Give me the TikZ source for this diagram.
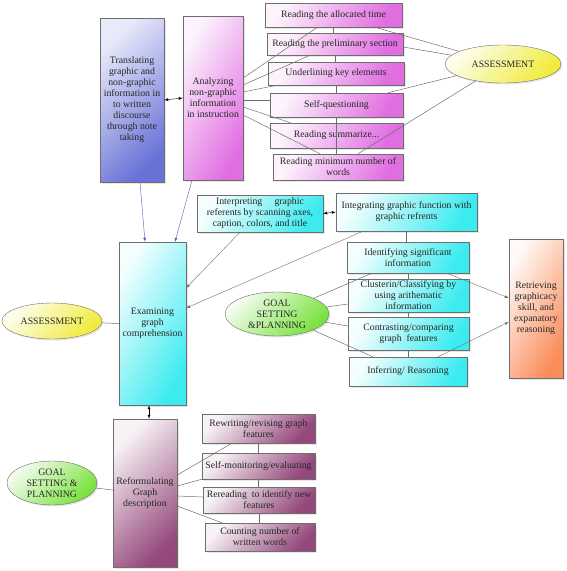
\documentclass[tikz,border=0pt]{standalone}
\usepackage{fontspec}
\setmainfont{Liberation Serif}
\usetikzlibrary{shapes.geometric,shadows}
\definecolor{bluebox}{RGB}{105,115,215}
\definecolor{pinkbox}{RGB}{225,110,225}
\definecolor{cyanbox}{RGB}{60,235,240}
\definecolor{plumbox}{RGB}{130,40,100}
\definecolor{orangebox}{RGB}{250,140,90}
\definecolor{yellowell}{RGB}{240,235,60}
\definecolor{greenell}{RGB}{120,225,60}
\definecolor{edgegray}{RGB}{110,110,110}
\definecolor{linkblue}{RGB}{90,90,190}
\tikzset{
  box/.style={draw=edgegray, align=center, inner sep=1pt, text=black!85,
    font=\fontsize{9.8}{11}\selectfont,
    drop shadow={opacity=0.2, shadow xshift=1.5pt, shadow yshift=-1.5pt}},
  bluefill/.style={top color=bluebox!15, bottom color=bluebox, shading angle=45},
  pinkfill/.style={top color=pinkbox!8, bottom color=pinkbox, shading angle=60},
  cyanfill/.style={top color=cyanbox!5, bottom color=cyanbox, shading angle=60},
  plumfill/.style={top color=plumbox!6, bottom color=plumbox!85, shading angle=45},
  orangefill/.style={top color=orangebox!5, bottom color=orangebox, shading angle=60},
  oval/.style={ellipse, draw=edgegray, inner sep=0pt, align=center, text=black!85,
    font=\fontsize{9.8}{11}\selectfont,
    drop shadow={opacity=0.2, shadow xshift=1.5pt, shadow yshift=-1.5pt}},
  yellowfill/.style={top color=yellowell!8, bottom color=yellowell, shading angle=45},
  greenfill/.style={top color=greenell!8, bottom color=greenell, shading angle=45},
  link/.style={draw=edgegray, line width=0.5pt},
}
\begin{document}
\begin{tikzpicture}[x=1pt,y=-1pt,>=latex]
\useasboundingbox (0,0) rectangle (567,571);
% top part
\node[box,bluefill,minimum width=64pt,minimum height=164pt] (trans) at (132,100)
  {Translating\\graphic and\\non-graphic\\information in\\to written\\discourse\\through note\\taking};
\node[box,pinkfill,minimum width=60pt,minimum height=164pt] (anal) at (213,98)
  {Analyzing\\non-graphic\\information\\in instruction};
\node[box,pinkfill,minimum width=137pt,minimum height=24pt] (r1) at (333.5,15) {Reading the allocated time};
\node[box,pinkfill,minimum width=136pt,minimum height=22pt] (r2) at (335,44) {Reading the preliminary section};
\node[box,pinkfill,minimum width=136pt,minimum height=23pt] (r3) at (336,73.5) {Underlining key elements};
\node[box,pinkfill,minimum width=133pt,minimum height=24pt] (r4) at (336.5,105) {Self-questioning};
\node[box,pinkfill,minimum width=133pt,minimum height=25pt] (r5) at (336.5,135.5) {Reading summarize...};
\node[box,pinkfill,minimum width=130pt,minimum height=26pt] (r6) at (338,167) {Reading minimum number of\\words};
\node[oval,yellowfill,minimum width=116pt,minimum height=38pt] (as1) at (503,64) {ASSESSMENT};

\draw[<->] (trans.east) -- (anal.west);
\draw[link] ([yshift=20pt]anal.east) -- ([xshift=-16pt]r1.south);
\draw[link] ([yshift=13pt]anal.east) -- ([xshift=-25pt]r2.south);
\draw[link] ([yshift=6pt]anal.east) -- ([xshift=-59pt]r3.south);
\draw[link] ([yshift=-2pt]anal.east) -- ([yshift=5pt]r4.west);
\draw[link] ([yshift=-9pt]anal.east) -- ([xshift=-46pt]r5.north);
\draw[link] ([yshift=-17pt]anal.east) -- ([xshift=-18pt]r6.north);
\draw[link] (r1.south) -- (r1.south |- r2.north);
\draw[link] (r2.south) -- (r2.south |- r3.north);
\draw[link] (r3.south) -- (r3.south |- r4.north);
\draw[link] (r4.south) -- (r4.south |- r6.north);
\draw[link] ([xshift=41.5pt]r1.south) -- (as1);
\draw[link] ([yshift=-3pt]r2.east) -- (as1);
\draw[link] ([xshift=51.5pt]r4.north) -- (as1);
\draw[link] ([xshift=20pt]r6.north) -- (as1);

% middle part
\node[box,cyanfill,minimum width=67pt,minimum height=163pt] (exam) at (152.5,323.5)
  {Examining\\graph\\comprehension};
\node[box,cyanfill,minimum width=126pt,minimum height=37pt] (interp) at (260,213.5)
  {Interpreting\quad\ graphic\\referents by scanning axes,\\caption, colors, and title};
\node[box,cyanfill,minimum width=141pt,minimum height=38pt] (integ) at (406.5,212)
  {Integrating graphic function with\\graphic refrents};
\node[box,cyanfill,minimum width=122pt,minimum height=31pt] (ident) at (408,257.5)
  {Identifying significant\\information};
\node[box,cyanfill,minimum width=121pt,minimum height=33pt] (clust) at (408.5,295.5)
  {Clusterin/Classifying by\\using arithematic\\information};
\node[box,cyanfill,minimum width=121pt,minimum height=33pt] (contr) at (408.5,333.5)
  {Contrasting/comparing\\graph\ \ features};
\node[box,cyanfill,minimum width=118pt,minimum height=29pt] (infer) at (408,371.5)
  {Inferring/ Reasoning};
\node[box,orangefill,minimum width=54pt,minimum height=139pt] (retr) at (536,308.5)
  {Retrieving\\graphicacy\\skill, and\\expanatory\\reasoning};
\node[oval,greenfill,minimum width=104pt,minimum height=44pt] (goal1) at (277,314)
  {GOAL\\SETTING\\\&PLANNING};
\node[oval,yellowfill,minimum width=100pt,minimum height=36pt] (as2) at (52,321) {ASSESSMENT};

\draw[->,draw=linkblue] ([xshift=8pt]trans.south) -- ([xshift=-7.5pt]exam.north);
\draw[->,draw=linkblue] ([xshift=-21pt]anal.south) -- ([xshift=22.5pt]exam.north);
\draw[<->] (interp.east) -- (integ.west);
\draw[->,draw=edgegray] ([xshift=-20pt]interp.south) -- ([yshift=35.5pt]exam.east);
\draw[->,draw=edgegray] ([xshift=-43.5pt]integ.south) -- ([yshift=15.5pt]exam.east);
\draw[link] (integ.south) -- (integ.south |- ident.north);
\draw[link] (ident.south) -- (ident.south |- clust.north);
\draw[link] (clust.south) -- (clust.south |- contr.north);
\draw[link] (contr.south) -- (contr.south |- infer.north);
\draw[link] (goal1) -- ([xshift=-36pt]ident.south);
\draw[link] (goal1) -- ([yshift=-8.5pt]clust.west);
\draw[link] (goal1) -- ([yshift=7.5pt]contr.west);
\draw[link] (goal1) -- ([xshift=-35pt]infer.north);
\draw[->,draw=edgegray] ([xshift=39pt]ident.south) -- ([yshift=10.5pt]retr.west);
\draw[->,draw=edgegray] ([xshift=30pt]infer.north) -- ([yshift=-13.5pt]retr.west);
\draw[link] (as2) -- (exam.west);

% bottom part
\node[box,plumfill,minimum width=64pt,minimum height=148pt] (reform) at (145,493)
  {Reformulating\\Graph\\description};
\node[box,plumfill,minimum width=113pt,minimum height=29pt] (rw) at (258.5,428.5)
  {Rewriting/revising graph\\features};
\node[box,plumfill,minimum width=113pt,minimum height=26pt] (sm) at (258.5,466)
  {Self-monitoring/evaluating};
\node[box,plumfill,minimum width=112pt,minimum height=26pt] (rr) at (259,500)
  {Rereading\ \ to identify new\\features};
\node[box,plumfill,minimum width=110pt,minimum height=28pt] (cnt) at (260,537)
  {Counting number of\\written words};
\node[oval,greenfill,minimum width=90pt,minimum height=44pt] (goal2) at (52,483)
  {GOAL\\SETTING \&\\PLANNING};

\draw[<->] ([xshift=-3.5pt]exam.south) -- ([xshift=4pt]reform.north);
\draw[link] (rw.south) -- (rw.south |- sm.north);
\draw[link] (sm.south) -- (sm.south |- rr.north);
\draw[link] (rr.south) -- (rr.south |- cnt.north);
\draw[link] ([yshift=18pt]reform.east) -- ([xshift=-26.5pt]rw.south);
\draw[link] ([yshift=7pt]reform.east) -- (sm.south west);
\draw[link] ([yshift=-3pt]reform.east) -- ([yshift=3pt]rr.west);
\draw[link] ([yshift=-13pt]reform.east) -- ([xshift=-38pt]cnt.north);
\draw[link] (goal2) -- ([yshift=3pt]reform.west);
\end{tikzpicture}
\end{document}
